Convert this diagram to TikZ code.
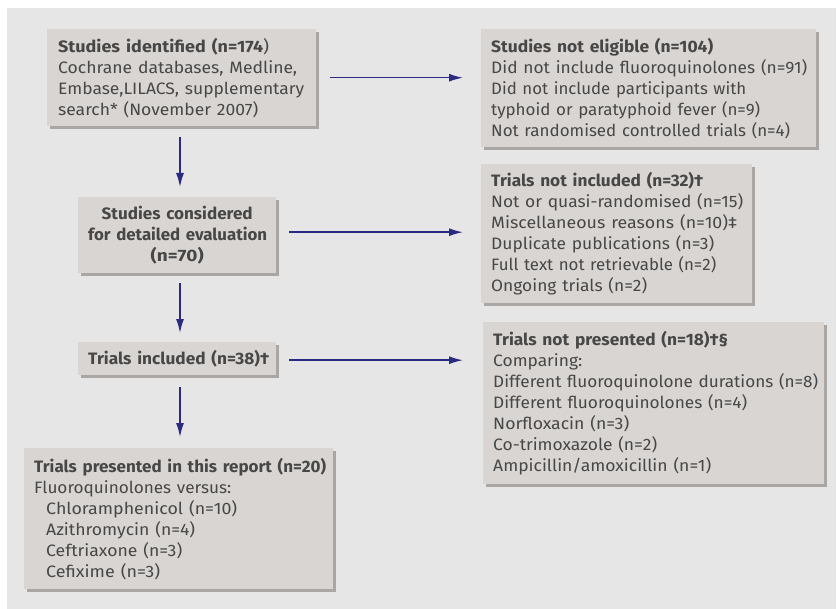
\documentclass[tikz,border=0pt]{standalone}
\usepackage{fontspec}
\setmainfont{Fira Sans}
\usetikzlibrary{shadows,arrows.meta}
\definecolor{bgc}{HTML}{E6E6E6}
\definecolor{boxc}{HTML}{D8D5D2}
\definecolor{shc}{HTML}{A9A6A3}
\definecolor{txc}{HTML}{474747}
\definecolor{arc}{HTML}{2A2A82}
\newcommand\rl[2]{\resizebox{#1pt}{\height}{#2}}
\newcommand\rh[2]{\resizebox{#1pt}{\height}{\textbf{#2}}}
\begin{document}
\begin{tikzpicture}[x=1pt,y=-1pt,
  fbox/.style={fill=boxc, anchor=north west, inner xsep=10pt, inner ysep=0pt,
    align=left, text=txc, font=\fontsize{16.5}{21}\selectfont,
    drop shadow={shadow xshift=3pt, shadow yshift=-3pt, fill=shc, opacity=1}},
  arr/.style={draw=arc, line width=1.5pt, -{Latex[length=14pt,width=8pt]}}]
\useasboundingbox (0,0) rectangle (837,609);
\fill[white] (0,0) rectangle (837,609);
\fill[bgc] (7,8) rectangle (836,609);
\coordinate (xa) at (180,0);

\node[fbox, text width=249pt, minimum height=97pt] (b1) at (47,29)
 {\hspace*{1pt}\rh{205}{Studies identified (n=174}\rl{6}{)}\\
  \hspace*{1pt}\rl{239}{Cochrane databases, Medline,}\\
  \hspace*{1pt}\rl{246}{Embase,LILACS, supplementary}\\
  \hspace*{1pt}\rl{200}{search* (November 2007)}};
\node[fbox, align=center, text width=178pt, minimum height=76pt] (b2) at (78,197)
 {\rh{151}{Studies considered}\\\rh{179}{for detailed evaluation}\\\rh{53}{(n=70)}};
\node[fbox, align=center, text width=178pt, minimum height=33pt] (b5) at (78,342)
 {\rh{181}{Trials included (n=38)†}};
\node[fbox, text width=289pt, minimum height=141pt] (b6) at (24,448)
 {\rh{292}{Trials presented in this report (n=20)}\\
  \rl{197}{Fluoroquinolones versus:}\\
  \hspace*{12pt}\rl{191}{Chloramphenicol (n=10)}\\
  \hspace*{12pt}\rl{149}{Azithromycin (n=4)}\\
  \hspace*{12pt}\rl{136}{Ceftriaxone (n=3)}\\
  \hspace*{12pt}\rl{114}{Cefixime (n=3)}};
\node[fbox, text width=315pt, minimum height=118pt] (b3) at (481,29)
 {\rh{222}{Studies not eligible (n=104)}\\
  \rl{316}{Did not include fluoroquinolones (n=91)}\\
  \rl{255}{Did not include participants with}\\
  \rl{269}{typhoid or paratyphoid fever (n=9)}\\
  \rl{299}{Not randomised controlled trials (n=4)}};
\node[fbox, text width=251pt, minimum height=139pt] (b4) at (481,164)
 {\rh{212}{Trials not included (n=32)†}\\
  \rl{252}{Not or quasi-randomised (n=15)}\\
  \rl{246}{Miscellaneous reasons (n=10)‡}\\
  \rl{223}{Duplicate publications (n=3)}\\
  \rl{225}{Full text not retrievable (n=2)}\\
  \rl{156}{Ongoing trials (n=2)}};
\node[fbox, text width=321pt, minimum height=162pt] (b7) at (483,322)
 {\rh{235}{Trials not presented (n=18)†§}\\
  \rl{89}{Comparing:}\\
  \rl{325}{Different fluoroquinolone durations (n=8)}\\
  \rl{254}{Different fluoroquinolones (n=4)}\\
  \rl{136}{Norfloxacin (n=3)}\\
  \rl{164}{Co-trimoxazole (n=2)}\\
  \rl{218}{Ampicillin/amoxicillin (n=1)}};

\coordinate (p2) at ([yshift=3pt]b2.east);
\coordinate (p5) at ([yshift=-1.5pt]b5.east);
\draw[arr, shorten <=11pt, shorten >=10pt] (b1.south -| xa) -- (b2.north -| xa);
\draw[arr, shorten <=10pt, shorten >=9pt] (b2.south -| xa) -- (b5.north -| xa);
\draw[arr, shorten <=12pt, shorten >=11pt] (b5.south -| xa) -- (b6.north -| xa);
\draw[arr, shorten <=14pt, shorten >=18pt] (b1.east) -- (b3.west |- b1.east);
\draw[arr, shorten <=13pt, shorten >=18pt] (p2) -- (b4.west |- p2);
\draw[arr, shorten <=13pt, shorten >=20pt] (p5) -- (b7.west |- p5);
\end{tikzpicture}
\end{document}
